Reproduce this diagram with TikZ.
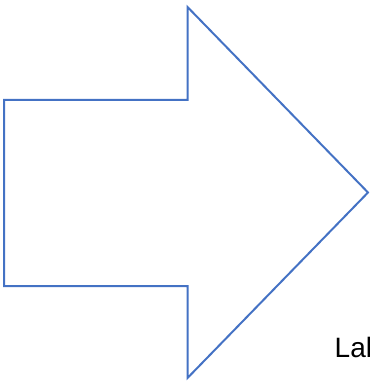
\documentclass[tikz,border=0pt]{standalone}
\usepackage{fontspec}
\setmainfont{Liberation Sans}
\definecolor{shapeblue}{HTML}{4472C4}
\tikzset{arrowshape/.style={draw=shapeblue, line width=2pt, line join=miter},
  lbl/.style={inner sep=0pt, anchor=base west, font=\fontsize{28}{33}\selectfont}}
\begin{document}
\begin{tikzpicture}[x=1pt,y=-1pt]
\useasboundingbox (0,0) rectangle (369,382);
\begin{scope}
\clip (0,0) rectangle (369,382);
\draw[arrowshape] (4,100) -- (187.5,100) -- (187.5,7) -- (368,192.5) -- (187.5,378) -- (187.5,286) -- (4,286) -- cycle;
\node[lbl] (label) at (334.5,357) {Label};
\end{scope}
\end{tikzpicture}
\end{document}
